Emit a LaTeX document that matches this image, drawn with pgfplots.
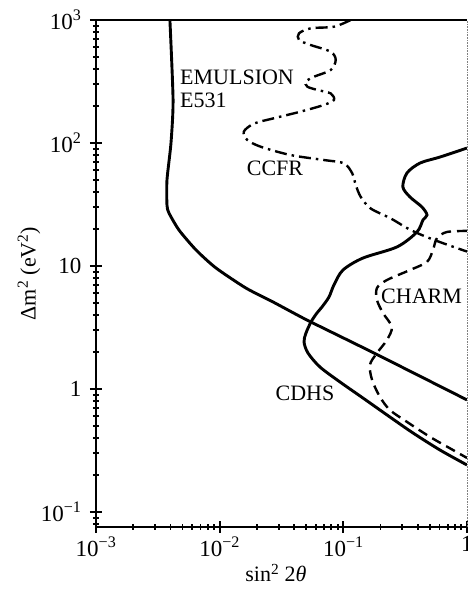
\documentclass[border=0pt]{standalone}
\usepackage{fontspec}
\setmainfont{Liberation Serif}
\usepackage{pgfplots}
\pgfplotsset{compat=1.18}
\begin{document}
\begin{tikzpicture}
\path[use as bounding box] (-96pt,-73pt) rectangle (372pt,527pt);
\begin{axis}[
  name=ax, scale only axis, width=371pt, height=507pt,
  xmode=log, ymode=log,
  xmin=1e-3, xmax=1, ymin=0.0755, ymax=1000,
  axis lines=left, axis line style={-, line width=2.7pt},
  xtick={0.001,0.01,0.1,1},
  xticklabels={10\textsuperscript{−3},10\textsuperscript{−2},10\textsuperscript{−1},1},
  ytick={0.1,1,10,100,1000},
  yticklabels={10\textsuperscript{−1},1,10,10\textsuperscript{2},10\textsuperscript{3}},
  minor xtick={0.002,0.003,0.004,0.005,0.006,0.007,0.008,0.009,0.02,0.03,0.04,0.05,0.06,0.07,0.08,0.09,0.2,0.3,0.4,0.5,0.6,0.7,0.8,0.9},
  minor ytick={0.08,0.09,0.2,0.3,0.4,0.5,0.6,0.7,0.8,0.9,2,3,4,5,6,7,8,9,20,30,40,50,60,70,80,90,200,300,400,500,600,700,800,900},
  major tick length=12pt, minor tick length=6pt,
  every tick/.style={black, line width=1.8pt},
  xticklabel style={font=\fontsize{23}{25}\selectfont},
  yticklabel style={font=\fontsize{23}{25}\selectfont, xshift=-5pt},
  label style={font=\fontsize{22}{24}\selectfont},
  xlabel={sin\textsuperscript{2} 2\textit{θ}},
  ylabel={Δm\textsuperscript{2} (eV\textsuperscript{2})},
  xlabel style={at={(axis description cs:0.485,-0.0907)}, anchor=center},
  ylabel style={at={(axis description cs:-0.1806,0.5)}, anchor=center},
]
% EMULSION E531
\addplot[black, line width=2.9pt, smooth, tension=0.4] coordinates {
(0.00396,1000) (0.0042,224) (0.00404,100) (0.00375,50) (0.00375,31.3) (0.00389,27)
(0.00469,19.6) (0.00644,13.5) (0.00933,9.64) (0.0163,6.62) (0.0270,5.10)
(0.0414,4.05) (0.0548,3.50) (0.177,1.96) (1.0,0.815)};
% CDHS
\addplot[black, line width=2.9pt, smooth, tension=0.5] coordinates {
(1,91) (0.605,76.9) (0.417,68.7) (0.327,57.0) (0.303,43.9) (0.346,36.4) (0.432,30.2)
(0.475,26.0) (0.441,23.7) (0.394,18.9) (0.272,14.3) (0.144,11.6) (0.0993,9.27)
(0.0840,7.02) (0.0766,5.60) (0.0672,4.64) (0.0612,4.15) (0.0548,3.51) (0.0499,2.85)
(0.0481,2.41) (0.0518,1.96) (0.0647,1.51) (0.094,1.14) (0.144,0.845) (0.238,0.592)
(0.366,0.439) (0.605,0.319) (1,0.241)};
% CHARM
\addplot[black, line width=2.4pt, smooth, tension=0.5, dash pattern=on 10pt off 6pt] coordinates {
(1,19.3) (0.689,18.9) (0.572,16.9) (0.531,13.5) (0.475,10.8) (0.346,9.27) (0.225,7.69)
(0.187,6.62) (0.187,5.30) (0.209,4.15) (0.247,3.19) (0.225,2.50) (0.187,1.96)
(0.164,1.57) (0.171,1.18) (0.198,0.861) (0.238,0.675) (0.327,0.540) (0.502,0.408)
(0.771,0.319) (1,0.275)};
% CCFR
\addplot[black, line width=2.4pt, smooth, tension=0.5, dash pattern=on 12pt off 5pt on 2.5pt off 5pt] coordinates {
(0.1147,1000) (0.0840,882) (0.0545,856) (0.0438,779) (0.0438,688) (0.0545,626)
(0.0791,552) (0.0868,473) (0.0791,392) (0.0580,346) (0.0497,315) (0.0512,287)
(0.0616,270) (0.0791,253) (0.0840,224) (0.0698,204) (0.0452,180) (0.0275,159)
(0.0190,144) (0.0157,124) (0.0167,106) (0.0215,93.2) (0.0375,79.8) (0.0698,72.7)
(0.101,68.4) (0.118,56.7) (0.126,45.6) (0.138,36.6) (0.166,29.4) (0.241,24.4)
(0.351,19.6) (0.541,16.3) (1,13.1)};
\node[anchor=west, font=\fontsize{22}{24}\selectfont, inner sep=0pt] at (axis cs:0.00478,344) {EMULSION};
\node[anchor=west, font=\fontsize{22}{24}\selectfont, inner sep=0pt] at (axis cs:0.00478,224) {E531};
\node[font=\fontsize{22}{24}\selectfont, inner sep=0pt] at (axis cs:0.0280,62.7) {CCFR};
\node[font=\fontsize{22}{24}\selectfont, inner sep=0pt] at (axis cs:0.429,5.70) {CHARM};
\node[font=\fontsize{22}{24}\selectfont, inner sep=0pt] at (axis cs:0.0490,0.928) {CDHS};
\end{axis}
\draw[line width=2.7pt] (ax.north west) -- (ax.north east);
\draw[densely dotted, line width=0.6pt, gray] (ax.south east) -- (ax.north east);
\end{tikzpicture}
\end{document}
